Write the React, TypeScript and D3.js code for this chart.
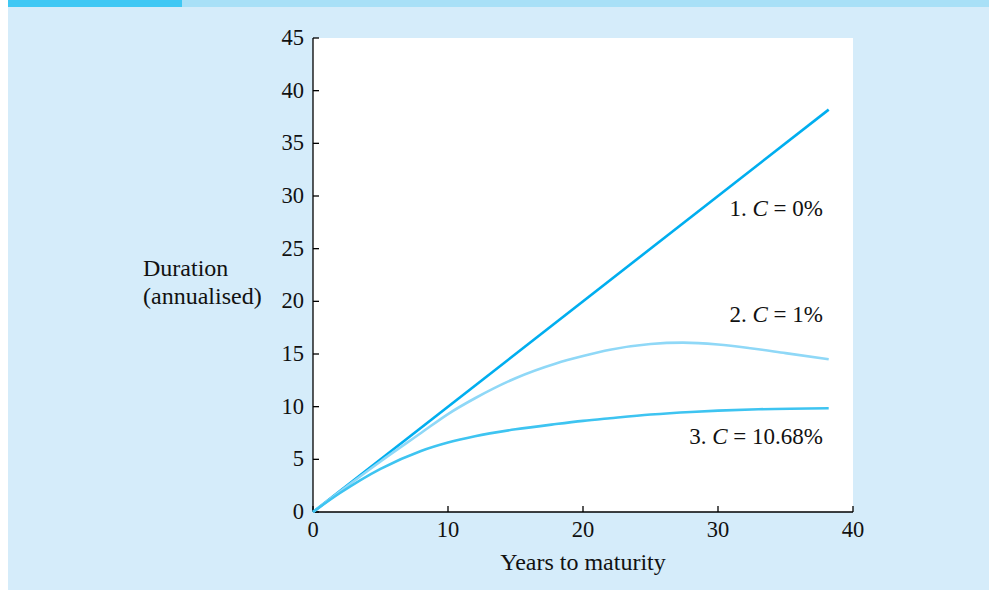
import React from "react";
import * as d3 from "d3";

const years1 = [0, 38.2];
const dur1 = [0, 38.2];

const years2 = [0, 2, 5, 8, 10, 12, 15, 18, 20, 22, 25, 27.4, 30, 32.4, 35, 38.2];
const dur2 = [0, 1.95, 4.8, 7.5, 9.3, 10.8, 12.7, 14.1, 14.8, 15.4, 15.95, 16.08, 15.9, 15.55, 15.08, 14.5];

const years3 = [0, 2, 5, 8, 10, 12, 15, 18, 20, 22, 25, 28, 30, 33, 38.2];
const dur3 = [0, 1.8, 4.1, 5.8, 6.6, 7.2, 7.85, 8.35, 8.65, 8.9, 9.25, 9.5, 9.62, 9.75, 9.85];

const xTicks = [0, 10, 20, 30, 40];
const yTicks = [0, 5, 10, 15, 20, 25, 30, 35, 40, 45];

const seriesLabels = ["1. ", "2. ", "3. "];
const seriesValues = ["= 0%", "= 1%", "= 10.68%"];

const W = 989;
const H = 590;
const FONT = "'Liberation Serif', 'DejaVu Serif', serif";

export default function App() {
  const x = d3.scaleLinear().domain([0, 40]).range([313, 853]);
  const y = d3.scaleLinear().domain([0, 45]).range([512, 38]);

  const line = d3
    .line<[number, number]>()
    .x((d) => x(d[0]))
    .y((d) => y(d[1]))
    .curve(d3.curveMonotoneX);

  const s1 = years1.map((v, i) => [v, dur1[i]] as [number, number]);
  const s2 = years2.map((v, i) => [v, dur2[i]] as [number, number]);
  const s3 = years3.map((v, i) => [v, dur3[i]] as [number, number]);

  const colors = ["#00aeef", "#8fd8f7", "#3ec4f1"];
  const labelY = [216, 322, 444];

  return (
    <svg
      width={W}
      height={H}
      style={{ position: "absolute", left: 0, top: 0, display: "block" }}
      fontFamily={FONT}
    >
      <rect x={0} y={0} width={W} height={H} fill="#ffffff" />
      <rect x={8} y={7} width={W - 8} height={H - 7} fill="#d5ecfa" />
      <rect x={8} y={0} width={174} height={7} fill="#3fc8f4" />
      <rect x={182} y={0} width={W - 182} height={7} fill="#a8e0f7" />
      <rect x={313} y={38} width={540} height={474} fill="#ffffff" />

      {/* axes */}
      <line x1={313} y1={38} x2={313} y2={512} stroke="#000" strokeWidth={1.3} />
      <line x1={313} y1={512} x2={853} y2={512} stroke="#000" strokeWidth={1.3} />
      {yTicks.map((t) => (
        <g key={"y" + t}>
          <line x1={313} x2={319} y1={y(t)} y2={y(t)} stroke="#000" strokeWidth={1.3} />
          <text x={304} y={y(t) + 7} textAnchor="end" fontSize={22.5} fill="#111">
            {t}
          </text>
        </g>
      ))}
      {xTicks.map((t) => (
        <g key={"x" + t}>
          <line x1={x(t)} x2={x(t)} y1={512} y2={506} stroke="#000" strokeWidth={1.3} />
          <text x={x(t)} y={537} textAnchor="middle" fontSize={22.5} fill="#111">
            {t}
          </text>
        </g>
      ))}

      {/* lines */}
      <path d={line(s1) || ""} fill="none" stroke={colors[0]} strokeWidth={2.6} />
      <path d={line(s2) || ""} fill="none" stroke={colors[1]} strokeWidth={2.6} />
      <path d={line(s3) || ""} fill="none" stroke={colors[2]} strokeWidth={2.6} />

      {/* series labels */}
      {seriesLabels.map((lab, i) => (
        <text key={"l" + i} x={823} y={labelY[i]} textAnchor="end" fontSize={23} fill="#111">
          {lab}
          <tspan fontStyle="italic">C</tspan>
          {" " + seriesValues[i]}
        </text>
      ))}

      {/* axis titles */}
      <text x={143} y={276} fontSize={24} fill="#111">
        Duration
      </text>
      <text x={143} y={304} fontSize={24} fill="#111">
        (annualised)
      </text>
      <text x={583} y={570} textAnchor="middle" fontSize={24} fill="#111">
        Years to maturity
      </text>
    </svg>
  );
}
